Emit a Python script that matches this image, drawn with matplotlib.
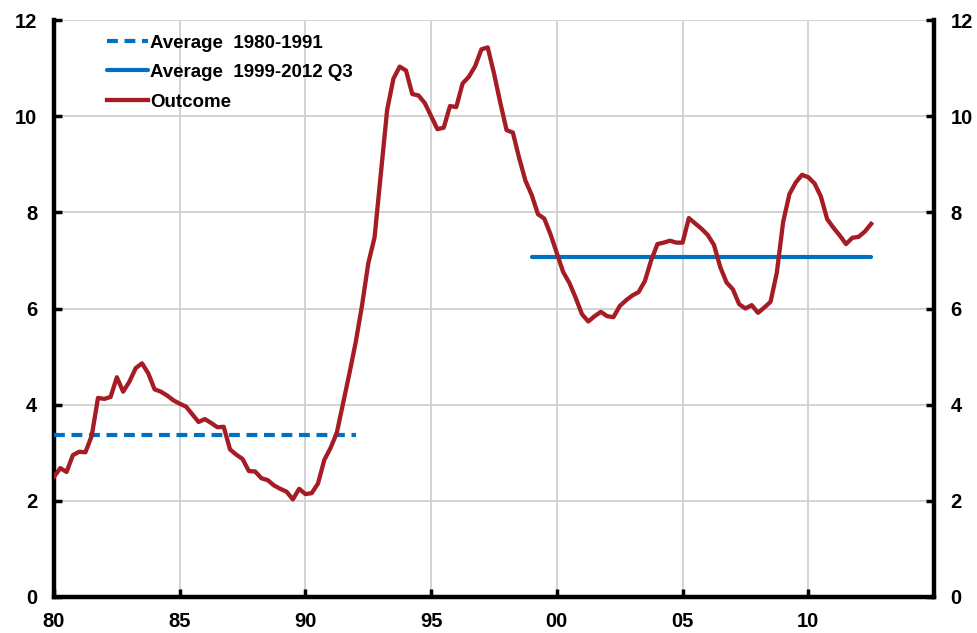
import numpy as np
import matplotlib
matplotlib.use("Agg")
import matplotlib.pyplot as plt

# ---- data ----
start_year = 1980.0
outcome = [
    2.50, 2.68, 2.60, 2.95,   # 1980
    3.02, 3.01, 3.35, 4.14,   # 1981
    4.12, 4.16, 4.57, 4.27,   # 1982
    4.48, 4.76, 4.86, 4.65,   # 1983
    4.32, 4.27, 4.19, 4.09,   # 1984
    4.02, 3.96, 3.80, 3.64,   # 1985
    3.70, 3.62, 3.53, 3.54,   # 1986
    3.07, 2.96, 2.87, 2.62,   # 1987
    2.61, 2.47, 2.43, 2.32,   # 1988
    2.25, 2.19, 2.03, 2.25,   # 1989
    2.14, 2.16, 2.36, 2.85,   # 1990
    3.10, 3.42, 4.03, 4.65,   # 1991
    5.30, 6.06, 6.94, 7.48,   # 1992
    8.81, 10.13, 10.78, 11.03,  # 1993
    10.95, 10.46, 10.43, 10.27,  # 1994
    10.00, 9.73, 9.76, 10.21,  # 1995
    10.19, 10.68, 10.82, 11.04,  # 1996
    11.39, 11.43, 10.89, 10.28,  # 1997
    9.71, 9.66, 9.13, 8.66,   # 1998
    8.36, 7.96, 7.87, 7.54,   # 1999
    7.15, 6.76, 6.53, 6.22,   # 2000
    5.88, 5.73, 5.84, 5.93,   # 2001
    5.84, 5.82, 6.05, 6.17,   # 2002
    6.27, 6.34, 6.57, 7.00,   # 2003
    7.34, 7.37, 7.41, 7.37,   # 2004
    7.37, 7.88, 7.77, 7.66,   # 2005
    7.53, 7.32, 6.86, 6.54,   # 2006
    6.40, 6.09, 6.00, 6.07,   # 2007
    5.91, 6.02, 6.14, 6.75,   # 2008
    7.80, 8.38, 8.62, 8.78,   # 2009
    8.73, 8.60, 8.33, 7.86,   # 2010
    7.68, 7.52, 7.34, 7.47,   # 2011
    7.49, 7.60, 7.76,         # 2012 Q1-Q3
]
avg_8091 = 3.36
avg_8091_span = [1980.0, 1992.0]
avg_9912 = 7.07
avg_9912_span = [1999.0, 2012.5]

x_ticks = [1980, 1985, 1990, 1995, 2000, 2005, 2010]
x_labels = ["80", "85", "90", "95", "00", "05", "10"]
y_ticks = [0, 2, 4, 6, 8, 10, 12]
y_labels = ["0", "2", "4", "6", "8", "10", "12"]

legend_labels = ["Average  1980-1991", "Average  1999-2012 Q3", "Outcome"]

# ---- plot ----
plt.rcParams['font.family'] = ['Liberation Sans', 'DejaVu Sans']
plt.rcParams['font.weight'] = 'bold'

fig = plt.figure(figsize=(9.78, 6.33), dpi=100)
ax = fig.add_axes([54/978, 1-597/633, (934-54)/978, (597-20)/633])

t = start_year + np.arange(len(outcome)) / 4.0
blue = '#0070c0'
red = '#a51c24'

ax.plot(avg_8091_span, [avg_8091, avg_8091], color=blue, lw=3.0,
        linestyle=(0, (2.6, 1.6)), label=legend_labels[0], zorder=3)
ax.plot(avg_9912_span, [avg_9912, avg_9912], color=blue, lw=3.0,
        solid_capstyle='round', label=legend_labels[1], zorder=3)
ax.plot(t, outcome, color=red, lw=3.1, solid_joinstyle='round',
        label=legend_labels[2], zorder=4)

ax.set_xlim(1980, 2015)
ax.set_ylim(0, 12)
ax.set_xticks(x_ticks)
ax.set_xticklabels(x_labels, fontweight='bold')
ax.set_yticks(y_ticks)
ax.set_yticklabels(y_labels, fontweight='bold')

ax.grid(True, color='#d0d0d0', lw=1.3, zorder=0)
ax.set_axisbelow(True)

for s in ['left', 'bottom', 'right']:
    ax.spines[s].set_linewidth(3.2)
    ax.spines[s].set_color('black')
ax.spines['top'].set_visible(False)

ax.tick_params(axis='x', direction='in', length=6, width=2.5, pad=11,
               labelsize=14.5, top=False)
ax.tick_params(axis='y', direction='in', length=6, width=2.5, pad=12,
               labelsize=14.5, left=True, right=True,
               labelleft=True, labelright=True)
for tick in ax.xaxis.get_major_ticks() + ax.yaxis.get_major_ticks():
    tick.label1.set_fontweight('bold')
    tick.label2.set_fontweight('bold')

leg = ax.legend(loc='upper left', bbox_to_anchor=(0.06, 0.975), frameon=False,
                prop={'weight': 'bold', 'size': 13.5}, handlelength=2.2,
                handletextpad=0.1, labelspacing=0.66, borderaxespad=0.0,
                borderpad=0.0)

fig.savefig('out.png', dpi=100)
